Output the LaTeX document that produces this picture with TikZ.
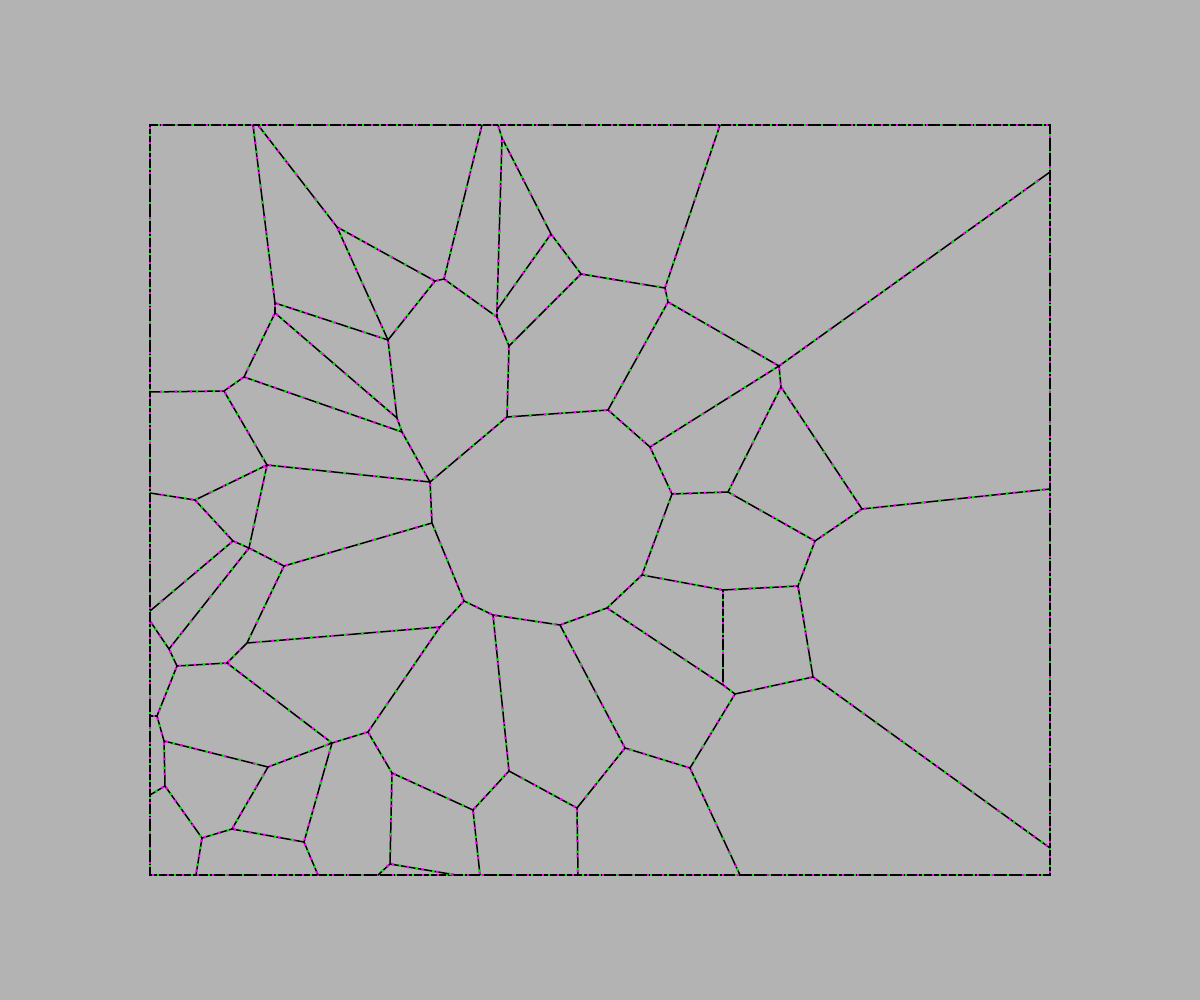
\documentclass[tikz,border=0pt]{standalone}
\usetikzlibrary{decorations.markings}

\definecolor{canvas}{RGB}{179,179,179}
\definecolor{pinkdot}{RGB}{255,0,255}
\definecolor{greendot}{RGB}{0,230,0}

\begin{document}
\begin{tikzpicture}[
  x=1pt, y=-1pt,
  edge/.style={draw=black, line width=1.5pt,
    postaction={decorate, decoration={markings,
      mark=between positions 3pt and -2pt step 15pt with {\fill[pinkdot] (-1.2pt,-1.2pt) rectangle (1.2pt,1.2pt);}}},
    postaction={decorate, decoration={markings,
      mark=between positions 10pt and -2pt step 17pt with {\fill[greendot] (-1.2pt,-1.2pt) rectangle (1.2pt,1.2pt);}}}}
]

\fill[canvas] (0,0) rectangle (1200,1000);
\useasboundingbox (0,0) rectangle (1200,1000);

% frame
\coordinate (nw) at (150,125);
\coordinate (se) at (1050,875);
\coordinate (t1) at (253,125); \coordinate (t2) at (258,125); \coordinate (t3) at (482,125);
\coordinate (t4) at (498,125); \coordinate (t5) at (720,125);
\coordinate (r1) at (1050,172); \coordinate (r2) at (1050,489); \coordinate (r3) at (1050,848);
\coordinate (b1) at (196,875); \coordinate (b2) at (318,875); \coordinate (b3) at (378,875);
\coordinate (b4) at (456,875); \coordinate (b5) at (480,875); \coordinate (b6) at (578,875);
\coordinate (b7) at (740,875);
\coordinate (l1) at (150,392); \coordinate (l2) at (150,493); \coordinate (l3) at (150,611);
\coordinate (l4) at (150,621); \coordinate (l5) at (150,716); \coordinate (l6) at (150,795);

% cell vertices
\coordinate (A) at (275,303);  \coordinate (A2) at (275,313); \coordinate (B) at (337,227);
\coordinate (C) at (388,340);  \coordinate (C2) at (397,418); \coordinate (C3) at (402,432);
\coordinate (D1) at (435,281); \coordinate (D2) at (444,279);
\coordinate (E1) at (497,310); \coordinate (E2) at (497,317); \coordinate (F) at (502,138);
\coordinate (G) at (551,234);  \coordinate (H) at (581,274);  \coordinate (I) at (509,346);
\coordinate (J) at (665,288);  \coordinate (K) at (668,302);  \coordinate (L) at (779,366);
\coordinate (M) at (608,410);  \coordinate (N) at (650,447);  \coordinate (O) at (672,494);
\coordinate (P) at (728,492);  \coordinate (Q) at (781,387);  \coordinate (R) at (862,509);
\coordinate (S) at (815,541);  \coordinate (T) at (798,586);  \coordinate (U) at (723,590);
\coordinate (U2) at (723,685); \coordinate (V) at (642,575);  \coordinate (V2) at (607,608);
\coordinate (W) at (813,677);  \coordinate (X) at (735,694);  \coordinate (Y) at (690,768);
\coordinate (Z) at (625,748);  \coordinate (AA) at (560,625); \coordinate (AB) at (577,808);
\coordinate (AC) at (509,771); \coordinate (AD) at (493,615); \coordinate (AE) at (464,601);
\coordinate (AF) at (440,627); \coordinate (AG) at (368,732); \coordinate (AH) at (332,743);
\coordinate (AI) at (392,773); \coordinate (AJ) at (473,810); \coordinate (AK) at (390,864);
\coordinate (AL) at (244,377); \coordinate (AM) at (224,391); \coordinate (AN) at (267,465);
\coordinate (AO) at (195,500); \coordinate (AP) at (233,541); \coordinate (AQ) at (249,548);
\coordinate (AR) at (284,566); \coordinate (AS) at (247,643); \coordinate (AT) at (169,649);
\coordinate (AU) at (177,666); \coordinate (AV) at (227,663); \coordinate (AW) at (157,716);
\coordinate (AX) at (164,741); \coordinate (AY) at (268,767); \coordinate (AZ) at (165,786);
\coordinate (BA) at (202,838); \coordinate (BB) at (232,829); \coordinate (BC) at (304,842);
\coordinate (c0) at (430,482); \coordinate (c1) at (507,417); \coordinate (c10) at (432,523);

\draw[edge] (nw) rectangle (se);

% upper cells
\foreach \u/\v in {t1/A, t2/B, B/C, B/D1, D1/D2, D1/C, D2/t3, D2/E2, t4/F, F/E1, E1/E2,
                   F/G, G/E1, G/H, H/I, E2/I, H/J, J/t5, J/K, K/L, L/r1, K/M, M/c1,
                   I/c1, c1/c0, M/N, N/O, N/L, L/Q, Q/P, O/P, Q/R, R/r2, R/S, S/P}
  \draw[edge] (\u) -- (\v);

% lower right cells
\foreach \u/\v in {S/T, T/U, U/V, V/O, T/W, W/r3, W/X, U/U2, U2/X, V/V2, V2/U2, X/Y, Y/b7,
                   Y/Z, Z/AA, AA/V2, Z/AB, AB/b6, AB/AC, AC/AD, AD/AA, AD/AE, AE/AF,
                   AE/c10, AF/AG, AF/AS, AG/AH, AG/AI, AI/AJ, AJ/AC, AJ/b5, AI/AK,
                   AK/b3, AK/b4}
  \draw[edge] (\u) -- (\v);

% left cells
\foreach \u/\v in {A/A2, A/C, A2/C2, C/C2, C2/C3, AL/C3, C3/c0, A2/AL, AL/AM, AM/l1, AM/AN,
                   AN/c0, AN/AO, AO/l2, AO/AP, AP/AQ, AN/AQ, AQ/AR, AR/c10, c0/c10, AR/AS,
                   AP/l3, AQ/AT, l4/AT, AT/AU, AU/AV, AV/AS, AV/AH, AU/AW, AW/l5, AW/AX,
                   AX/AY, AY/AH, AX/AZ, AZ/l6, AZ/BA, BA/b1, BA/BB, BB/AY, BB/BC, BC/b2,
                   BC/AH}
  \draw[edge] (\u) -- (\v);

\end{tikzpicture}
\end{document}
